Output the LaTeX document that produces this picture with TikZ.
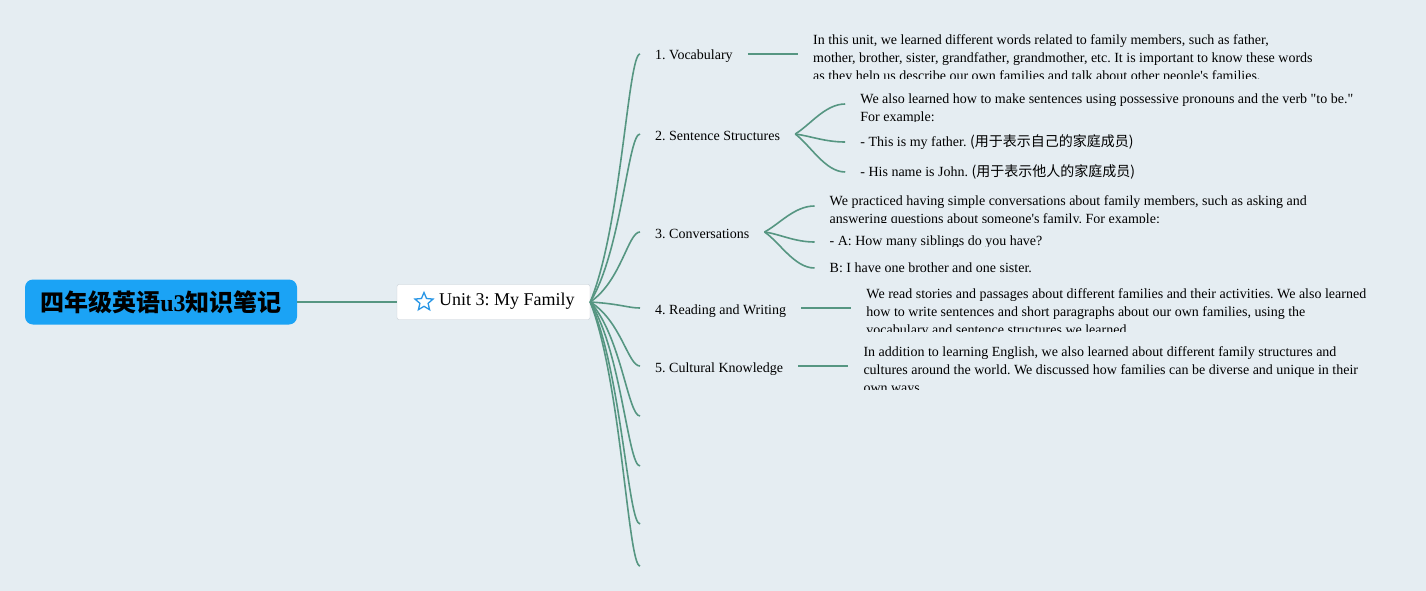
\documentclass[tikz,border=0pt]{standalone}
\usepackage{fontspec}
\setmainfont{Liberation Serif}
\newfontfamily\cjk{Noto Sans CJK SC}
\usepackage{xcolor}
\usepackage{tikz}
\usetikzlibrary{shapes.geometric, positioning}
\definecolor{canvasgray}{RGB}{229, 237, 242}
\definecolor{rootblue}{RGB}{27, 163, 245}
\definecolor{linkgreen}{RGB}{86, 150, 130}
\definecolor{boxgray}{RGB}{200, 207, 214}
\definecolor{starblue}{RGB}{40, 150, 230}
\frenchspacing

\begin{document}
\begin{tikzpicture}[
  x=1pt, y=-1pt,
  rootbox/.style={fill=rootblue, rounded corners=8pt, minimum width=272pt,
                  minimum height=45pt, inner sep=0pt,
                  font=\fontsize{24}{28}\selectfont\bfseries},
  unitbox/.style={draw=boxgray, fill=white, rounded corners=2pt,
                  minimum width=193pt, minimum height=35pt},
  staricon/.style={star, star points=5, star point ratio=2.2, draw=starblue,
                   line width=1.3pt, minimum size=19pt, inner sep=0pt},
  topic/.style={anchor=west, inner xsep=15pt, inner ysep=2pt,
                text height=15pt, text depth=3pt,
                font=\fontsize{14}{18}\selectfont},
  item/.style={inner xsep=15pt, inner ysep=2pt,
               font=\fontsize{14}{18}\selectfont},
  para/.style={item, inner ysep=0pt, align=left, yshift=-5pt},
  branch/.style={draw=linkgreen, line width=1.6pt}
]
  \fill[canvasgray] (0,0) rectangle (1426,591);

  \node[rootbox] (root) at (161,302) {{\cjk 四年级英语}u3{\cjk 知识笔记}};
  \node[unitbox] (unit) at (493.5,302) {};
  \node[staricon] (star) at (424,302) {};
  \node[anchor=west, inner sep=0pt, font=\fontsize{18}{22}\selectfont] (unitlabel) at (439,301.5) {Unit 3: My Family};

  \node[topic] (vocab) at (640,54) {1. Vocabulary};
  \node[topic] (sentence) at (640,134) {2. Sentence Structures};
  \node[topic] (conv) at (640,232) {3. Conversations};
  \node[topic] (reading) at (640,308) {4. Reading and Writing};
  \node[topic] (culture) at (640,366) {5. Cultural Knowledge};
  \coordinate (empty6) at (640,416);
  \coordinate (empty7) at (640,466);
  \coordinate (empty8) at (640,524);
  \coordinate (empty9) at (640,566);

  \begin{scope}
    \clip (780,28) rectangle (1420,79);
    \node[para, right=50pt of vocab] (vocabtext) {In this unit, we learned different words related to family members, such as father,\\
      mother, brother, sister, grandfather, grandmother, etc. It is important to know these words\\
      as they help us describe our own families and talk about other people\textquotesingle s families.};
  \end{scope}
  \begin{scope}
    \clip (780,86) rectangle (1420,121.5);
    \node[para, right=50pt of sentence, yshift=30pt] (sentpara) {We also learned how to make sentences using possessive pronouns and the verb \textquotedbl to be.\textquotedbl\\
      For example:};
  \end{scope}
  \node[item, right=50pt of sentence, yshift=-8pt] (father) {- This is my father. {\cjk (用于表示自己的家庭成员)}};
  \node[item, right=50pt of sentence, yshift=-38pt] (john) {- His name is John. {\cjk (用于表示他人的家庭成员)}};
  \begin{scope}
    \clip (760,188) rectangle (1420,222.5);
    \node[para, right=50pt of conv, yshift=26pt] (convpara) {We practiced having simple conversations about family members, such as asking and\\
      answering questions about someone\textquotesingle s family. For example:};
  \end{scope}
  \begin{scope}
    \clip (760,228) rectangle (1200,246);
    \node[item, right=50pt of conv, yshift=-10pt] (asking) {- A: How many siblings do you have?};
  \end{scope}
  \node[item, right=50pt of conv, yshift=-36pt] (answer) {B: I have one brother and one sister.};
  \begin{scope}
    \clip (780,282) rectangle (1420,331);
    \node[para, right=50pt of reading] (readtext) {We read stories and passages about different families and their activities. We also learned\\
      how to write sentences and short paragraphs about our own families, using the\\
      vocabulary and sentence structures we learned.};
  \end{scope}
  \begin{scope}
    \clip (780,340) rectangle (1420,389);
    \node[para, right=50pt of culture] (culturetext) {In addition to learning English, we also learned about different family structures and\\
      cultures around the world. We discussed how families can be diverse and unique in their\\
      own ways.};
  \end{scope}

  \draw[branch] (root) -- (unit);
  \draw[branch] (unit.east) .. controls +(31,-74) and +(-12,0) .. (vocab.west);
  \draw[branch] (unit.east) .. controls +(31,-50) and +(-12,0) .. (sentence.west);
  \draw[branch] (unit.east) .. controls +(31,-21) and +(-12,0) .. (conv.west);
  \draw[branch] (unit.east) .. controls +(31,2) and +(-12,0) .. (reading.west);
  \draw[branch] (unit.east) .. controls +(31,19) and +(-12,0) .. (culture.west);
  \draw[branch] (unit.east) .. controls +(31,34) and +(-12,0) .. (empty6);
  \draw[branch] (unit.east) .. controls +(31,49) and +(-12,0) .. (empty7);
  \draw[branch] (unit.east) .. controls +(31,67) and +(-12,0) .. (empty8);
  \draw[branch] (unit.east) .. controls +(31,79) and +(-12,0) .. (empty9);
  \draw[branch] (vocab) -- (vocab -| vocabtext.west);
  \draw[branch] (sentence.east) .. controls +(15,-9) and +(-20,0) .. ([yshift=5pt]sentpara.west);
  \draw[branch] (sentence.east) .. controls +(15,2) and +(-20,0) .. (father.west);
  \draw[branch] (sentence.east) .. controls +(15,11) and +(-20,0) .. (john.west);
  \draw[branch] (conv.east) .. controls +(15,-8) and +(-20,0) .. ([yshift=5pt]convpara.west);
  \draw[branch] (conv.east) .. controls +(15,2) and +(-20,0) .. (asking.west);
  \draw[branch] (conv.east) .. controls +(15,10) and +(-20,0) .. (answer.west);
  \draw[branch] (reading) -- (reading -| readtext.west);
  \draw[branch] (culture) -- (culture -| culturetext.west);
\end{tikzpicture}
\end{document}
